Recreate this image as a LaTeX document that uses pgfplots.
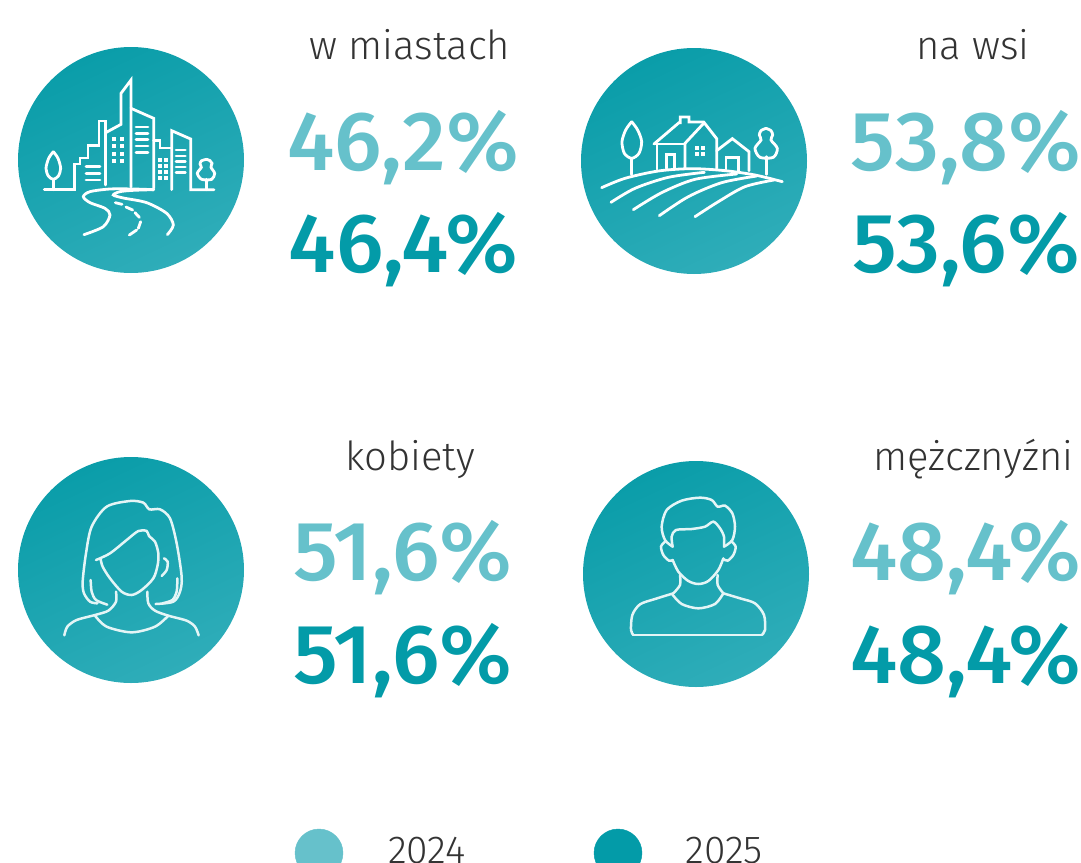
\documentclass[border=0pt]{standalone}
\usepackage{fontspec}
\usepackage{pgfplots}
\pgfplotsset{compat=1.18}
\usepackage{pgfplotstable}
\setmainfont{Fira Sans}
\newfontfamily\firanum[FakeStretch=1.025]{Fira Sans Medium}
\newfontfamily\firalab{Fira Sans Light}
\definecolor{light}{HTML}{66C1CB}
\definecolor{dark}{HTML}{039BA8}
\definecolor{gradtop}{HTML}{0A9DA9}
\definecolor{gradbot}{HTML}{2FADB9}
\definecolor{ink}{HTML}{333333}
\definecolor{paleline}{HTML}{E4F5F6}

% percentages: x, baseline y (picture pixels), value
\pgfplotstableread{
x y v
403 170.5 46.2
966 170.5 53.8
403 580.5 51.6
966 580.5 48.4
}\yearA
\pgfplotstableread{
x y v
403.5 272.5 46.4
966 272.5 53.6
403 683 51.6
966 683 48.4
}\yearB

\pgfdeclareplotmark{gradcircle}{\shade[draw=none,top color=gradtop,bottom color=gradbot,shading angle=25] (0,0) circle (\pgfplotmarksize);}
\tikzset{lab/.style={anchor=base,inner sep=0pt,text=ink,font=\firalab\fontsize{40}{48}\selectfont}}

\newcommand\seg[2][]{\addplot[icon,x filter/.expression={x/3+\ox},y filter/.expression={y/3+\oy},#1] coordinates {#2};}
\newcommand\win[1]{\addplot[only marks,mark=square*,mark size=1.6pt,white,x filter/.expression={x/3+\ox},y filter/.expression={y/3+\oy},forget plot] coordinates {#1};}

\begin{document}
\begin{tikzpicture}
\useasboundingbox (0,0) rectangle (1081pt,862pt);
\clip (0,0) rectangle (1081pt,862pt);
\begin{axis}[
    at={(0,0)}, anchor=south west,
    scale only axis, width=1081pt, height=862pt,
    xmin=0, xmax=1081, ymin=0, ymax=862, y dir=reverse,
    hide axis, clip=false, clip marker paths=true,
    icon/.style={white,line width=2.8pt,line cap=round,line join=miter,mark=none,forget plot},
    person/.style={paleline,line width=2.5pt,smooth},
    pct/.style={only marks,mark=none,
        point meta=explicit,
        nodes near coords={\pgfmathprintnumber{\pgfplotspointmeta}\%},
        nodes near coords align={center},
        every node near coord/.append style={anchor=base,inner sep=0pt,
            font=\firanum\fontsize{#1}{100}\selectfont,
            /pgf/number format/.cd,fixed,fixed zerofill,precision=1,use comma,assume math mode=true}},
]
% circles
\addplot[only marks,mark=gradcircle,mark size=113pt] coordinates {(131,160) (694,161) (131,570) (696,574)};

% percentages
\addplot[pct=84,light] table[x=x,y=y,meta=v] {\yearA};
\addplot[pct=84,dark] table[x=x,y=y,meta=v] {\yearB};

% legend dots
\addplot[only marks,mark=*,mark size=24pt,light] coordinates {(319,853)};
\addplot[only marks,mark=*,mark size=24pt,dark] coordinates {(618,853)};

\node[lab] at (axis cs:410,59) {w miastach};
\node[lab] at (axis cs:973,59) {na wsi};
\node[lab] at (axis cs:410,470) {kobiety};
\node[lab] at (axis cs:973.5,470) {mężcznyźni};
\node[lab,font=\firalab\fontsize{39}{48}\selectfont] at (axis cs:427,863) {2024};
\node[lab,font=\firalab\fontsize{39}{48}\selectfont] at (axis cs:724,863) {2025};

% city icon
\def\ox{10}\def\oy{40}
\seg[smooth]{(130,335) (116,355) (108,385) (115,408) (130,418) (145,408) (152,385) (144,355) (130,335)}
\seg{(130,418) (130,449)}
\seg{(103,449) (193,449) (193,372) (210,372) (210,354) (234,354) (234,316) (267,316) (267,243) (287,243) (287,435)}
\seg{(287,278) (333,253) (333,160) (363,120) (363,441)}
\seg{(363,205) (431,235) (431,445)}
\seg{(431,302) (450,302) (450,324) (485,324)}
\seg{(485,449) (485,272) (542,297) (542,449) (612,449)}
\seg{(590,449) (590,418)}
\seg[smooth]{(590,358) (575,362) (570,372) (574,382) (562,400) (575,418) (605,418) (614,400) (603,382) (606,370) (600,362) (590,358)}
\seg{(228,380) (270,380)}\seg{(228,400) (270,400)}\seg{(228,420) (270,420)}
\seg{(378,261) (414,261)}\seg{(378,280) (414,280)}\seg{(378,299) (414,299)}\seg{(378,318) (414,318)}\seg{(378,337) (414,337)}
\seg{(498,330) (526,330)}\seg{(498,348) (526,348)}\seg{(498,365) (526,365)}\seg{(498,381) (526,381)}\seg{(498,397) (526,397)}
\win{(310,296) (336,296) (310,318) (336,318) (310,340) (336,340) (310,362) (336,362)}
\win{(450,358) (468,358) (450,376) (468,376) (450,394) (468,394) (450,412) (468,412)}
\seg[smooth]{(431,449) (370,447) (300,447) (240,455) (220,470) (240,488) (285,505) (300,525) (280,560) (222,584)}
\seg[smooth]{(431,449) (370,451) (330,455) (310,465) (340,474) (410,488) (470,520) (490,555) (472,584)}
\seg{(316,488) (336,493)}\seg{(348,501) (368,510)}\seg{(375,518) (388,532)}\seg{(392,545) (385,565)}\seg{(380,570) (358,585)}

% village icon
\def\ox{575}\def\oy{40}
\seg[smooth]{(170,245) (152,270) (141,305) (148,340) (170,355) (192,340) (200,305) (188,270) (170,245)}
\seg{(170,355) (170,403)}
\seg{(237,312) (312,248) (316,248) (316,231) (342,231) (342,246) (386,246) (425,296) (425,385)}
\seg{(386,250) (330,310) (330,385)}
\seg{(237,312) (330,312)}
\seg{(246,312) (246,388)}
\seg{(275,385) (275,343) (298,343) (298,385)}
\win{(364,322) (382,322) (364,340) (382,340)}
\seg{(425,332) (472,296) (522,335) (522,392)}
\seg{(453,388) (453,352) (490,352) (490,392)}
\seg{(575,350) (575,403)}
\seg[smooth]{(573,265) (558,272) (553,285) (558,300) (540,325) (555,352) (595,352) (607,325) (588,300) (593,285) (588,272) (573,265)}
\seg[smooth]{(80,443) (150,415) (250,393) (350,386) (450,392) (540,405) (622,425)}
\seg[smooth]{(108,487) (180,445) (280,412) (388,397)}
\seg[smooth]{(175,509) (260,458) (360,418) (485,402)}
\seg[smooth]{(253,527) (340,470) (440,428) (545,408)}
\seg[smooth]{(360,530) (430,485) (510,440) (597,420)}

% woman icon
\def\ox{10}\def\oy{450}
\seg[person]{(262,460) (240,455) (222,430) (218,395) (228,310) (245,230) (290,170) (360,153) (400,158) (418,178) (450,178) (480,205) (500,280) (515,380) (510,425) (490,455) (437,462)}
\seg[person]{(242,390) (245,425) (258,450) (292,464)}
\seg[person]{(502,385) (500,425) (487,450) (457,460)}
\seg[person]{(258,330) (300,310) (350,270) (385,243) (410,243) (417,258) (435,275) (445,310) (443,345) (430,385) (395,420) (365,435) (335,425) (300,385) (278,350) (272,327)}
\seg[person]{(462,325) (473,335) (470,360) (455,378)}
\seg[person]{(318,425) (318,455) (295,482) (255,495) (200,510) (172,530) (163,556)}
\seg[person]{(412,425) (415,460) (435,482) (475,497) (530,512) (555,530) (566,556)}
\seg[person]{(255,497) (290,530) (365,547) (435,530) (475,497)}

% man icon
\def\ox{575}\def\oy{455}
\seg[person]{(293,275) (270,255) (260,215) (275,165) (320,137) (375,128) (410,135) (428,155) (450,152) (472,175) (480,215) (472,255) (447,275)}
\seg[person]{(293,275) (290,245) (303,225) (350,222) (390,215) (415,200) (435,220) (447,245) (447,275)}
\seg[person]{(293,315) (310,350) (340,378) (370,387) (400,378) (430,345) (445,310)}
\seg[person]{(270,260) (258,275) (265,300) (282,317) (293,315)}
\seg[person]{(470,260) (482,275) (475,300) (458,317) (445,312)}
\seg[person]{(315,360) (315,390) (295,415)}
\seg[person]{(428,360) (428,390) (445,415)}
\seg[person]{(295,415) (240,432) (195,448) (172,480) (168,525) (175,540)}
\seg[person,sharp plot]{(175,540) (560,540)}
\seg[person]{(560,540) (570,525) (567,480) (540,445) (495,430) (445,415)}
\seg[person]{(292,418) (320,447) (370,460) (420,447) (445,415)}
\end{axis}
\end{tikzpicture}
\end{document}
